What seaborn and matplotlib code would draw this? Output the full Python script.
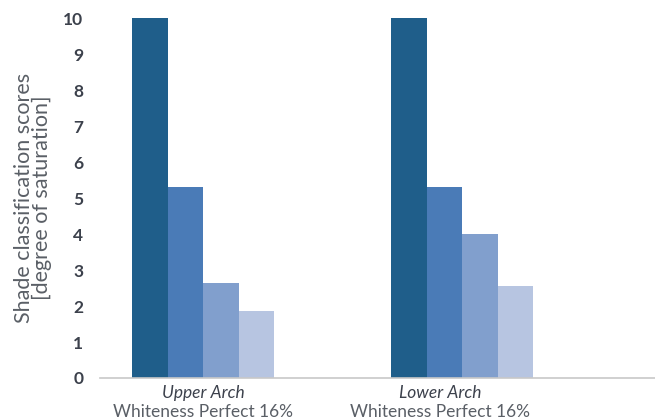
import matplotlib
matplotlib.use("Agg")
import matplotlib.pyplot as plt
import seaborn as sns
import pandas as pd

categories = ["Upper Arch", "Lower Arch"]
subtitle = "Whiteness Perfect 16%"
series = ["S1", "S2", "S3", "S4"]
upper_values = [10, 5.3, 2.65, 1.85]
lower_values = [10, 5.3, 4.0, 2.55]
colors = ["#1F5E8A", "#4A7BB7", "#819FCD", "#B7C5E1"]
yticks = list(range(0, 11))

rows = []
for s, u, l in zip(series, upper_values, lower_values):
    rows.append({"cat": categories[0], "series": s, "value": u})
    rows.append({"cat": categories[1], "series": s, "value": l})
df = pd.DataFrame(rows)

sns.set_theme(style="white")
plt.rcParams["font.family"] = ["Lato", "DejaVu Sans"]

fig = plt.figure(figsize=(6.55, 4.2), dpi=100)
ax = fig.add_axes([0.1527, 0.1, 0.8473, 0.857])

sns.barplot(data=df, x="cat", y="value", hue="series", order=categories,
            hue_order=series, palette=colors, width=0.548, gap=0,
            saturation=1, edgecolor="none", linewidth=0, ax=ax, legend=False)

ax.set_ylim(0, 10)
ax.set_xlim(-0.398, 1.745)
ax.set_yticks(yticks)
ax.set_yticklabels([str(t) for t in yticks], fontsize=12.5, fontweight="bold", color="#3C414C")
ax.tick_params(axis="y", length=0, pad=12)
ax.tick_params(axis="x", length=0)
ax.set_xticks([])
ax.set_xlabel("")
ax.set_ylabel("Shade classification scores\n[degree of saturation]", fontsize=15.5,
              color="#5A5F66", labelpad=8, linespacing=0.88)

for sp in ["left", "right", "top"]:
    ax.spines[sp].set_visible(False)
ax.spines["bottom"].set_color("#C8C8C8")
ax.spines["bottom"].set_linewidth(1.2)

label_pos = [0, 0.915]
trans = ax.get_xaxis_transform()
for pos, cat in zip(label_pos, categories):
    ax.text(pos, -0.02, cat, transform=trans, ha="center", va="top",
            fontsize=12.5, style="italic", color="#3C414C")
    ax.text(pos, -0.072, subtitle, transform=trans, ha="center", va="top",
            fontsize=12.5, color="#5A5F66")

fig.savefig("out.png", dpi=100)
